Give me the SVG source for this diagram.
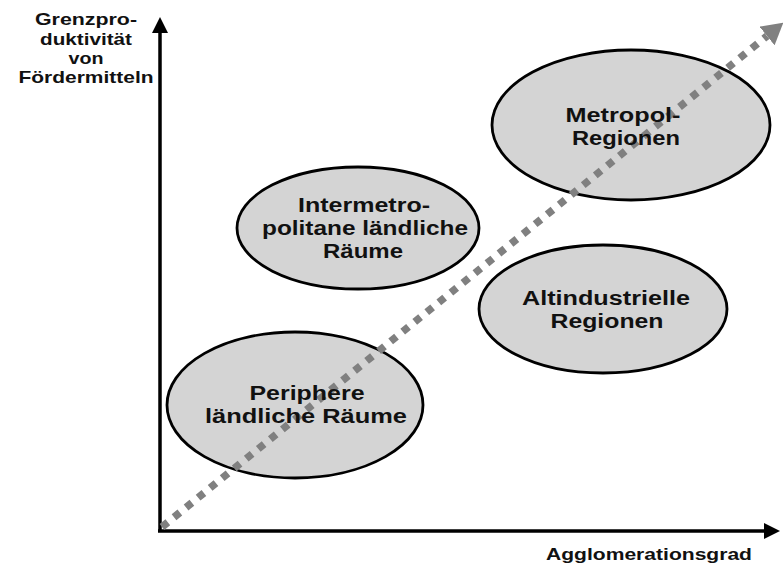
<svg xmlns="http://www.w3.org/2000/svg" width="783" height="565" viewBox="0 0 783 565">
<style>
  .node ellipse { fill: #d4d4d4; stroke: #000; stroke-width: 2.8; }
  text { font-family: "Liberation Sans", Arial, sans-serif; font-weight: bold; fill: #111; text-anchor: middle; }
  .nt { font-size: 19.5px; }
  .ax { font-size: 16.5px; }
  .axis { stroke: #000; stroke-width: 3.5; fill: none; }
  .trend { stroke: #808080; stroke-width: 7.5; stroke-dasharray: 7.5 8; fill: none; }
</style>
<defs>
  <marker id="axhead" markerUnits="userSpaceOnUse" markerWidth="16" markerHeight="16" refX="0" refY="8" orient="auto">
    <path d="M0,0 L16,8 L0,16 z" fill="#000"/>
  </marker>
  <marker id="trhead" markerUnits="userSpaceOnUse" markerWidth="22" markerHeight="24" refX="0" refY="12" orient="auto">
    <path d="M0,0 L21,12 L0,24 z" fill="#808080"/>
  </marker>
</defs>
<rect width="783" height="565" fill="#fff"/>

<g id="metropol" class="node">
  <ellipse cx="631" cy="125" rx="139" ry="75"/>
</g>
<g id="intermetropolitan" class="node">
  <ellipse cx="358" cy="228" rx="121" ry="61"/>
</g>
<g id="altindustriell" class="node">
  <ellipse cx="603" cy="309" rx="124" ry="64"/>
</g>
<g id="peripher" class="node">
  <ellipse cx="295" cy="405" rx="128" ry="73"/>
</g>

<g id="connectors">
  <path class="axis" d="M160,531 L160,33" marker-end="url(#axhead)"/>
  <path class="axis" d="M158,531 L764,531" marker-end="url(#axhead)"/>
  <path class="trend" d="M162,527 L767,36" marker-end="url(#trhead)"/>
</g>

<g id="labels-nodes">
  <text class="nt" x="623" y="122" textLength="115" lengthAdjust="spacingAndGlyphs">Metropol-</text>
  <text class="nt" x="626" y="145" textLength="108" lengthAdjust="spacingAndGlyphs">Regionen</text>

  <text class="nt" x="364" y="212" textLength="132" lengthAdjust="spacingAndGlyphs">Intermetro-</text>
  <text class="nt" x="365" y="235" textLength="206" lengthAdjust="spacingAndGlyphs">politane ländliche</text>
  <text class="nt" x="363" y="258" textLength="80" lengthAdjust="spacingAndGlyphs">Räume</text>

  <text class="nt" x="606" y="305" textLength="168" lengthAdjust="spacingAndGlyphs">Altindustrielle</text>
  <text class="nt" x="607" y="328" textLength="113" lengthAdjust="spacingAndGlyphs">Regionen</text>

  <text class="nt" x="307" y="400" textLength="115" lengthAdjust="spacingAndGlyphs">Periphere</text>
  <text class="nt" x="306" y="423" textLength="202" lengthAdjust="spacingAndGlyphs">ländliche Räume</text>
</g>

<g id="axis-labels">
  <text class="ax" x="86" y="25" textLength="102" lengthAdjust="spacingAndGlyphs">Grenzpro-</text>
  <text class="ax" x="86" y="44.5" textLength="92" lengthAdjust="spacingAndGlyphs">duktivität</text>
  <text class="ax" x="86" y="64" textLength="35" lengthAdjust="spacingAndGlyphs">von</text>
  <text class="ax" x="86" y="83" textLength="135" lengthAdjust="spacingAndGlyphs">Fördermitteln</text>
  <text class="ax" x="649" y="560" textLength="206" lengthAdjust="spacingAndGlyphs">Agglomerationsgrad</text>
</g>
</svg>
